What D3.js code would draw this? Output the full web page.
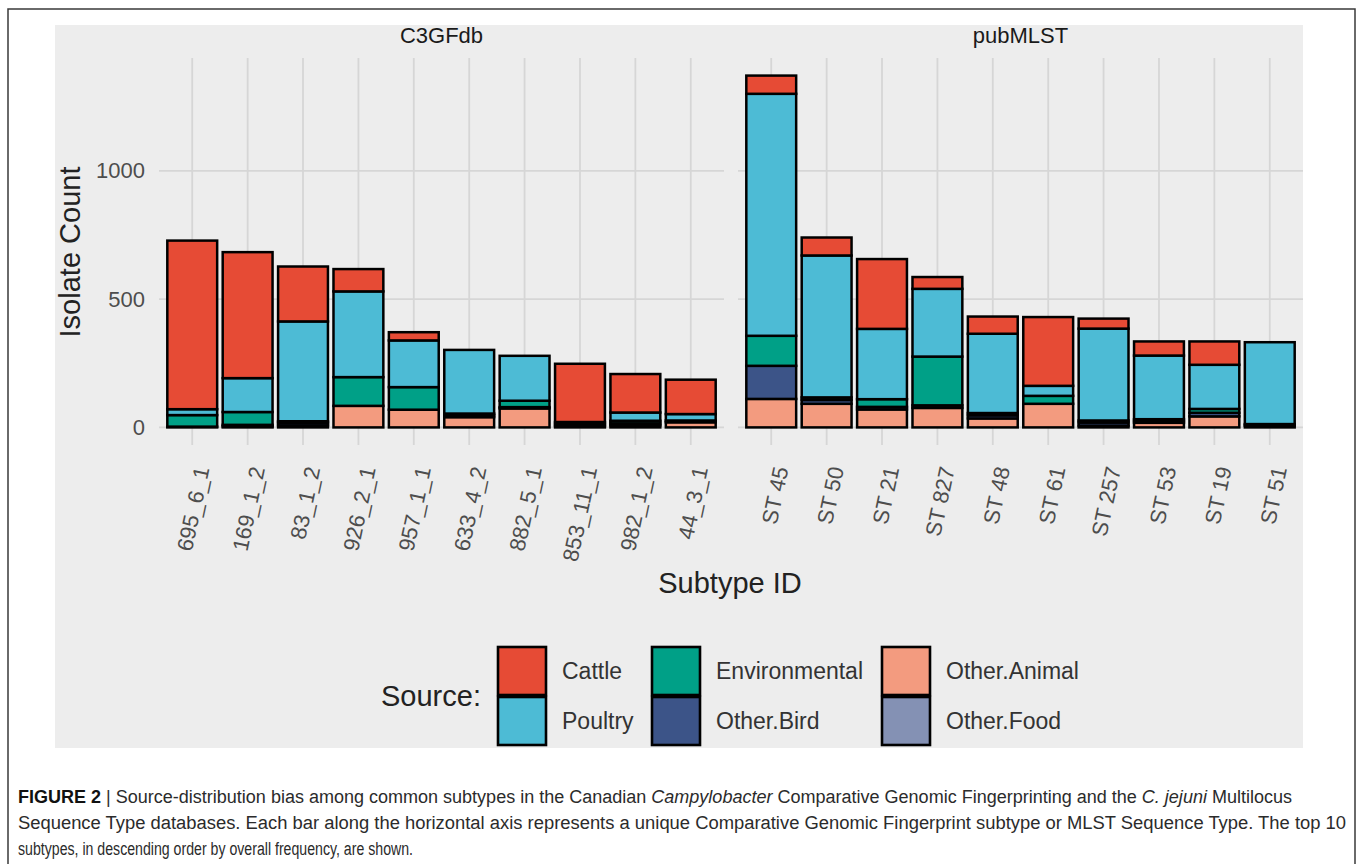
<!DOCTYPE html>
<html>
<head>
<meta charset="utf-8">
<script src="https://cdn.jsdelivr.net/npm/d3@7"></script>
<style>
  html, body { margin: 0; padding: 0; background: #ffffff; }
  svg { display: block; }
</style>
</head>
<body>
<svg id="chart" width="1360" height="864"></svg>
<script>
// ---- data -------------------------------------------------------------
const c3Subtypes   = ["695_6_1", "169_1_2", "83_1_2", "926_2_1", "957_1_1", "633_4_2", "882_5_1", "853_11_1", "982_1_2", "44_3_1"];
const mlstSubtypes = ["ST 45", "ST 50", "ST 21", "ST 827", "ST 48", "ST 61", "ST 257", "ST 53", "ST 19", "ST 51"];

// isolate counts per source (same order as the subtype arrays)
const c3Cattle        = [657, 491, 214,  87,  32,   0,   0, 227, 150, 134];
const c3Poultry       = [ 23, 132, 389, 334, 182, 248, 175,   8,  32,  25];
const c3Environmental = [ 45,  50,   6, 112,  88,   6,  25,   8,  10,   7];
const c3OtherBird     = [  0,   6,  10,   0,   0,   8,   5,   0,   8,   0];
const c3OtherAnimal   = [  3,   4,   8,  84,  69,  40,  74,   5,   0,  20];
const c3OtherFood     = [  0,   0,   0,   0,   0,   0,   0,   0,   8,   0];

const mlstCattle        = [ 71,  70, 272,  46,  67, 268,  39,  55,  91,   0];
const mlstPoultry       = [943, 553, 274, 264, 309,  39, 358, 248, 172, 319];
const mlstEnvironmental = [117,  10,  30, 190,   9,  31,   8,   7,  15,   6];
const mlstOtherBird     = [129,  15,  10,  10,  12,   0,  12,   7,  14,   7];
const mlstOtherAnimal   = [111,  92,  70,  76,  35,  92,   7,  18,  43,   0];
const mlstOtherFood     = [  0,   0,   0,   0,   0,   0,   0,   0,   0,   0];

const sources = ["Cattle", "Poultry", "Environmental", "Other.Bird", "Other.Animal", "Other.Food"];
const sourceColors = ["#E64B35", "#4DBBD5", "#00A087", "#3C5488", "#F39B7F", "#8491B4"];
const yTicks = [0, 500, 1000];

const panels = [
  { title: "C3GFdb",  categories: c3Subtypes,
    series: [c3Cattle, c3Poultry, c3Environmental, c3OtherBird, c3OtherAnimal, c3OtherFood] },
  { title: "pubMLST", categories: mlstSubtypes,
    series: [mlstCattle, mlstPoultry, mlstEnvironmental, mlstOtherBird, mlstOtherAnimal, mlstOtherFood] }
];

// ---- layout -----------------------------------------------------------
const svg = d3.select("#chart");
const font = "'Liberation Sans', Arial, Helvetica, sans-serif";
const bg = "#ededed", gridCol = "#d6d6d6";
const panelTop = 58, panelBottom = 445;
const panelRanges = [[159, 724], [738, 1303]];

// figure frame
svg.append("path")
  .attr("d", "M8,864 V9 H1355 V864")
  .attr("fill", "none").attr("stroke", "#3a3a3a").attr("stroke-width", 1.5);

// plot background
svg.append("rect")
  .attr("x", 55).attr("y", 25).attr("width", 1248).attr("height", 723)
  .attr("fill", bg);

const color = d3.scaleOrdinal().domain(sources).range(sourceColors);

// shared y scale (ggplot-style 5% expansion)
const totals = panels.flatMap(p => p.categories.map((_, i) => d3.sum(p.series, s => s[i])));
const yMax = d3.max(totals);
const pad = yMax * 0.05;
const y = d3.scaleLinear().domain([-pad, yMax + pad]).range([panelBottom, panelTop]);

// stacking: first source level sits on top
const stackKeys = sources.slice().reverse();
const stack = d3.stack().keys(stackKeys);

panels.forEach((p, pi) => {
  const [x0, x1] = panelRanges[pi];
  const x = d3.scalePoint().domain(p.categories).range([x0, x1]).padding(0.6);
  const barW = x.step() * 0.9;
  const g = svg.append("g");

  // grid
  g.selectAll("line.hgrid").data(yTicks).join("line")
    .attr("x1", x0).attr("x2", x1)
    .attr("y1", d => y(d)).attr("y2", d => y(d))
    .attr("stroke", gridCol).attr("stroke-width", 1.8);
  g.selectAll("line.vgrid").data(p.categories).join("line")
    .attr("x1", d => x(d)).attr("x2", d => x(d))
    .attr("y1", panelTop).attr("y2", panelBottom)
    .attr("stroke", gridCol).attr("stroke-width", 1.8);

  // strip title
  svg.append("text")
    .attr("x", (x0 + x1) / 2).attr("y", 43)
    .attr("text-anchor", "middle")
    .attr("font-family", font).attr("font-size", 22).attr("fill", "#1a1a1a")
    .text(p.title);

  // stacked bars
  const rows = p.categories.map((c, i) => {
    const r = { cat: c };
    sources.forEach((s, si) => { r[s] = p.series[si][i]; });
    return r;
  });
  const layers = stack(rows);
  g.selectAll("g.layer").data(layers).join("g")
    .attr("fill", d => color(d.key))
    .selectAll("rect").data(d => d.filter(v => v[1] - v[0] > 0)).join("rect")
      .attr("x", d => x(d.data.cat) - barW / 2)
      .attr("width", barW)
      .attr("y", d => y(d[1]))
      .attr("height", d => y(d[0]) - y(d[1]))
      .attr("stroke", "#000").attr("stroke-width", 2.5);

  // x tick labels
  g.selectAll("text.xlab").data(p.categories).join("text")
    .attr("transform", d => `translate(${x(d) + 10},${467}) rotate(-78)`)
    .attr("text-anchor", "end")
    .attr("dominant-baseline", "central")
    .attr("font-family", font).attr("font-size", 22).attr("fill", "#4d4d4d")
    .text(d => d);
});

// y tick labels
svg.selectAll("text.ylab").data(yTicks).join("text")
  .attr("x", 145).attr("y", d => y(d))
  .attr("text-anchor", "end").attr("dominant-baseline", "central")
  .attr("font-family", font).attr("font-size", 22).attr("fill", "#4d4d4d")
  .text(d => d);

// axis titles
svg.append("text")
  .attr("transform", "translate(80,252) rotate(-90)")
  .attr("text-anchor", "middle")
  .attr("font-family", font).attr("font-size", 29).attr("fill", "#222")
  .text("Isolate Count");
svg.append("text")
  .attr("x", 730).attr("y", 593)
  .attr("text-anchor", "middle")
  .attr("font-family", font).attr("font-size", 29).attr("fill", "#222")
  .text("Subtype ID");

// legend
const legend = svg.append("g");
legend.append("text")
  .attr("x", 381).attr("y", 706)
  .attr("font-family", font).attr("font-size", 29).attr("fill", "#222")
  .text("Source:");
const keyX = [498, 652, 882], keyY = [647, 697], keySize = 48;
sources.forEach((s, i) => {
  const col = Math.floor(i / 2), row = i % 2;
  legend.append("rect")
    .attr("x", keyX[col]).attr("y", keyY[row])
    .attr("width", keySize).attr("height", keySize)
    .attr("fill", color(s)).attr("stroke", "#000").attr("stroke-width", 2.6);
  legend.append("text")
    .attr("x", keyX[col] + keySize + 16).attr("y", keyY[row] + keySize / 2)
    .attr("dominant-baseline", "central")
    .attr("font-family", font).attr("font-size", 23).attr("fill", "#333")
    .text(s);
});

// caption (condensed by fitting each line to its width)
const capFont = "'Liberation Sans Narrow', 'Liberation Sans', Arial, sans-serif";
const captionLines = [
  { y: 803, len: 1274, parts: [
    ["FIGURE 2", "bold", "normal"], [" | Source-distribution bias among common subtypes in the Canadian ", "normal", "normal"],
    ["Campylobacter", "normal", "italic"], [" Comparative Genomic Fingerprinting and the ", "normal", "normal"],
    ["C. jejuni", "normal", "italic"], [" Multilocus", "normal", "normal"] ] },
  { y: 829, len: 1328, parts: [
    ["Sequence Type databases. Each bar along the horizontal axis represents a unique Comparative Genomic Fingerprint subtype or MLST Sequence Type. The top 10", "normal", "normal"] ] },
  { y: 855, len: 395, parts: [
    ["subtypes, in descending order by overall frequency, are shown.", "normal", "normal"] ] }
];
captionLines.forEach(line => {
  const t = svg.append("text")
    .attr("x", 18).attr("y", line.y)
    .attr("font-family", capFont).attr("font-size", 18).attr("fill", "#2b2b2b")
    .attr("textLength", line.len).attr("lengthAdjust", "spacingAndGlyphs");
  line.parts.forEach(([txt, w, st]) => {
    t.append("tspan").attr("font-weight", w).attr("font-style", st)
      .attr("fill", w === "bold" ? "#111" : null).text(txt);
  });
});
</script>
</body>
</html>
